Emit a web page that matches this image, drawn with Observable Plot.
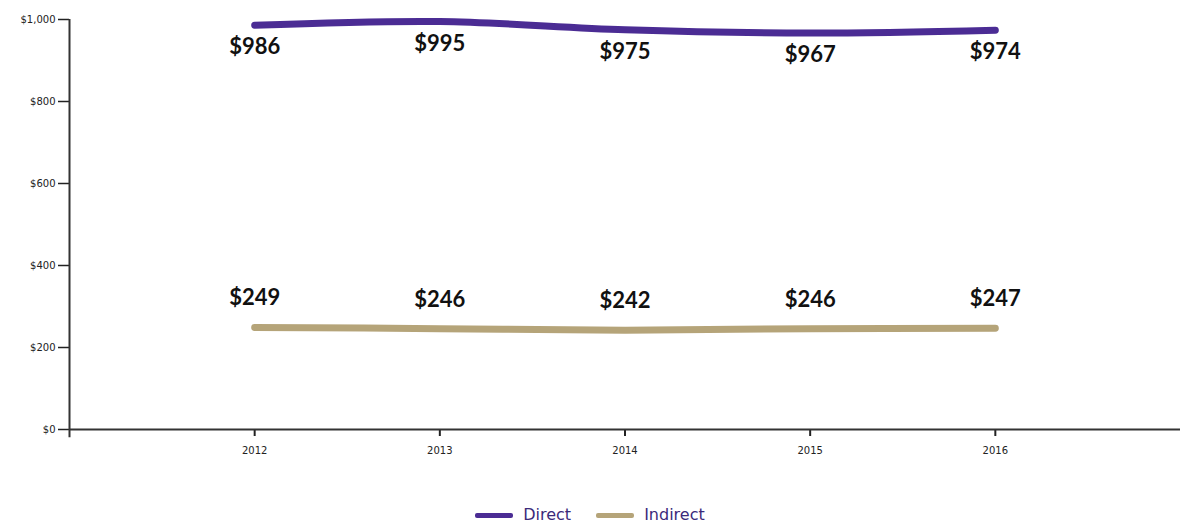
<!DOCTYPE html>
<html>
<head>
<meta charset="utf-8">
<script src="https://cdn.jsdelivr.net/npm/d3@7"></script>
<script src="https://cdn.jsdelivr.net/npm/@observablehq/plot@0.6"></script>
<style>
  html, body { margin: 0; padding: 0; background: #fff; }
  #chart svg { display: block; }
  #legend { display: flex; justify-content: center; gap: 25px; font-family: "DejaVu Sans", Verdana, sans-serif; font-size: 16px; line-height: 20px; color: #3b2a7a; height: 20px; align-items: center; margin-top: 9px; }
  .item { display: flex; align-items: center; gap: 10px; }
  .sw { width: 38px; height: 5px; border-radius: 2px; }
</style>
</head>
<body>
<div id="chart"></div>
<div id="legend"></div>
<script>
const years = [2012, 2013, 2014, 2015, 2016];
const direct = [986, 995, 975, 967, 974];
const indirect = [249, 246, 242, 246, 247];
const seriesNames = ["Direct", "Indirect"];
const seriesColors = ["#4b2c94", "#b5a479"];
const yTicks = [0, 200, 400, 600, 800, 1000];

const rows = [];
years.forEach((y, i) => {
  rows.push({year: y, value: direct[i], series: seriesNames[0]});
  rows.push({year: y, value: indirect[i], series: seriesNames[1]});
});
const dRows = rows.filter(d => d.series === "Direct");
const iRows = rows.filter(d => d.series === "Indirect");

const chart = Plot.plot({
  width: 1180,
  height: 496,
  marginLeft: 69,
  marginRight: 0,
  marginTop: 19,
  marginBottom: 67,
  style: {fontFamily: "DejaVu Sans, Verdana, sans-serif", background: "#fff"},
  x: {domain: [2011, 2017], ticks: years, tickFormat: d => String(d), label: null},
  y: {domain: [0, 1000], ticks: yTicks, tickFormat: d => "$" + d3.format(",")(d), label: null},
  color: {domain: seriesNames, range: seriesColors},
  marks: [
    Plot.axisY({ticks: yTicks, tickFormat: d => "$" + d3.format(",")(d), tickSize: 11, tickPadding: 3, fontSize: 10, stroke: "#222", strokeWidth: 1.5, color: "#222", label: null}),
    Plot.axisX({ticks: years, tickFormat: d => String(d), tickSize: 7, tickPadding: 10, fontSize: 10, stroke: "#222", strokeWidth: 2, color: "#222", label: null}),
    Plot.ruleY([0], {stroke: "#333", strokeWidth: 2}),
    Plot.ruleX([2011], {y1: -20, y2: 1000, stroke: "#333", strokeWidth: 2}),
    Plot.line(rows, {x: "year", y: "value", z: "series", stroke: "series", strokeWidth: 7, curve: "catmull-rom"}),
    Plot.text(dRows, {x: "year", y: "value", text: d => "$" + d.value, dy: 22, fontSize: 22, fontWeight: "bold", fontFamily: "Lato, sans-serif", fill: "#111"}),
    Plot.text(iRows, {x: "year", y: "value", text: d => "$" + d.value, dy: -29, fontSize: 22, fontWeight: "bold", fontFamily: "Lato, sans-serif", fill: "#111"})
  ]
});
document.getElementById("chart").appendChild(chart);

const legend = document.getElementById("legend");
seriesNames.forEach((n, i) => {
  const item = document.createElement("div");
  item.className = "item";
  const sw = document.createElement("span");
  sw.className = "sw";
  sw.style.background = seriesColors[i];
  const lab = document.createElement("span");
  lab.textContent = n;
  item.appendChild(sw);
  item.appendChild(lab);
  legend.appendChild(item);
});
</script>
</body>
</html>
